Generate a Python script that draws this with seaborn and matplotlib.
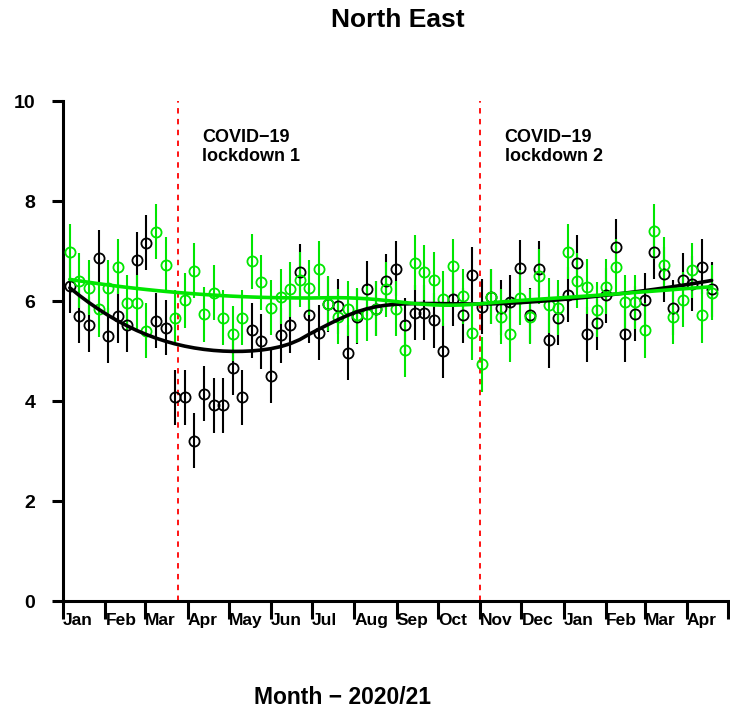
import numpy as np
import pandas as pd
import seaborn as sns
import matplotlib.pyplot as plt

# weekly rates
week_start = "2020-01-06"
black_rate = [6.31, 5.71, 5.53, 6.87, 5.31, 5.71, 5.53, 6.83, 7.17, 5.61,
              5.47, 4.08, 4.08, 3.21, 4.15, 3.92, 3.92, 4.67, 4.08, 5.42,
              5.20, 4.51, 5.32, 5.52, 6.59, 5.72, 5.37, 5.94, 5.90, 4.97,
              5.69, 6.25, 5.85, 6.40, 6.65, 5.52, 5.77, 5.77, 5.62, 5.01,
              6.05, 5.72, 6.53, 5.89, 6.09, 5.87, 5.98, 6.67, 5.72, 6.65,
              5.22, 5.67, 6.13, 6.77, 5.34, 5.57, 6.12, 7.09, 5.34, 5.75,
              6.02, 6.98, 6.54, 5.87, 6.42, 6.35, 6.69, 6.24]
green_rate = [6.99, 6.41, 6.27, 5.84, 6.27, 6.69, 5.97, 5.97, 5.41, 7.39,
              6.73, 5.67, 6.02, 6.61, 5.74, 6.17, 5.67, 5.35, 5.67, 6.80,
              6.38, 5.87, 6.09, 6.24, 6.43, 6.27, 6.65, 5.95, 5.69, 5.85,
              5.72, 5.75, 5.85, 6.24, 5.85, 5.03, 6.77, 6.58, 6.43, 6.05,
              6.70, 6.10, 5.37, 4.74, 6.09, 5.69, 5.34, 6.07, 5.69, 6.50,
              5.92, 5.87, 6.99, 6.41, 6.29, 5.83, 6.29, 6.69, 5.98, 5.98,
              5.42, 7.40, 6.73, 5.69, 6.03, 6.62, 5.72, 6.17]
black_err = 0.55
green_err = 0.55

month_labels = ["Jan", "Feb", "Mar", "Apr", "May", "Jun", "Jul", "Aug", "Sep",
                "Oct", "Nov", "Dec", "Jan", "Feb", "Mar", "Apr", ""]
lockdown_dates = ["2020-03-25", "2020-11-01"]
lockdown_labels = ["COVID\u221219\nlockdown 1", "COVID\u221219\nlockdown 2"]

origin = pd.Timestamp("2020-01-01")
weeks = pd.date_range(week_start, periods=len(black_rate), freq="7D")
day = (weeks - origin).days.values.astype(float)
month_days = (pd.date_range("2020-01-01", "2021-05-01", freq="MS") - origin).days.values
lock_days = [(pd.Timestamp(d) - origin).days for d in lockdown_dates]


def loess(x, y, span=0.75):
    # local quadratic fit with tricube weights (like R's loess default)
    x = np.asarray(x, float)
    y = np.asarray(y, float)
    n = len(x)
    k = int(np.ceil(span * n))
    fit = np.empty(n)
    for i, x0 in enumerate(x):
        d = np.abs(x - x0)
        h = np.sort(d)[k - 1]
        w = np.clip(1 - (d / h) ** 3, 0, None) ** 3
        X = np.column_stack([np.ones(n), x - x0, (x - x0) ** 2])
        sw = np.sqrt(w)
        beta = np.linalg.lstsq(X * sw[:, None], y * sw, rcond=None)[0]
        fit[i] = beta[0]
    return fit


df = pd.DataFrame({"day": day, "black": black_rate, "green": green_rate})
df["black_fit"] = loess(df["day"], df["black"])
df["green_fit"] = loess(df["day"], df["green"])

sns.set_style("ticks")
plt.rcParams["font.family"] = ["Liberation Sans", "DejaVu Sans"]
plt.rcParams["font.weight"] = "bold"
for key in ["text.color", "axes.labelcolor", "xtick.color", "ytick.color", "axes.edgecolor"]:
    plt.rcParams[key] = "black"

green = "#00E600"
fig = plt.figure(figsize=(7.3, 7.16), dpi=100)
ax = fig.add_axes([63 / 730, 115 / 716, 665 / 730, 500 / 716])

ax.errorbar(df["day"], df["black"], yerr=black_err, fmt="o", ms=7.3, mfc="none",
            mec="black", mew=1.3, ecolor="black", elinewidth=1.5, capsize=0, zorder=3)
ax.errorbar(df["day"], df["green"], yerr=green_err, fmt="o", ms=7.3, mfc="none",
            mec=green, mew=1.3, ecolor=green, elinewidth=1.5, capsize=0, zorder=3)
sns.lineplot(data=df, x="day", y="black_fit", color="black", lw=2.6, ax=ax, zorder=4)
sns.lineplot(data=df, x="day", y="green_fit", color=green, lw=2.6, ax=ax, zorder=5)

for d, lab in zip(lock_days, lockdown_labels):
    ax.axvline(d, color="red", ls=(0, (3, 3)), lw=1.3, zorder=2)
    ax.annotate(lab, xy=(d, 9.44), xytext=(17.5, 0), textcoords="offset points",
                ha="left", va="top", fontsize=13, fontweight="bold", linespacing=1.15,
                color="black")

ax.set_xlim(0, month_days[-1])
ax.set_ylim(0, 10)
ax.set_xticks(month_days)
ax.set_xticklabels(month_labels, ha="left", fontsize=12.5, fontweight="bold")
ax.set_yticks([0, 2, 4, 6, 8, 10])
ax.set_yticklabels(["0", "2", "4", "6", "8", "10"], fontsize=14, fontweight="bold")
ax.tick_params(axis="x", length=13, width=2.2, pad=-4.5, colors="black")
ax.tick_params(axis="y", length=8, width=2.2, pad=12, colors="black")
ax.set_xlabel("")
ax.set_ylabel("")
sns.despine(ax=ax)
for side in ["left", "bottom"]:
    ax.spines[side].set_linewidth(2.2)
    ax.spines[side].set_color("black")

fig.text(398 / 730, 1 - 20 / 716, "North East", ha="center", va="center",
         fontsize=19, fontweight="bold", color="black")
fig.text(343 / 730, 1 - 697 / 716, "Month \u2212 2020/21", ha="center", va="center",
         fontsize=16.5, fontweight="bold", color="black")

fig.savefig("out.png", dpi=100)
